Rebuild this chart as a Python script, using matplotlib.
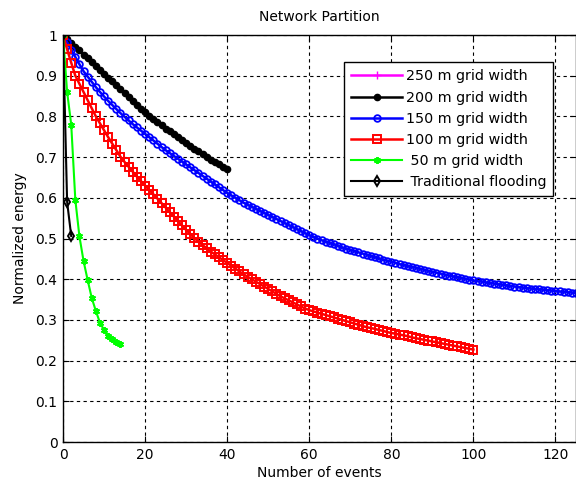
import numpy as np
import matplotlib.pyplot as plt

# ---- data ----
x_250 = [0, 1]
y_250 = [1.000, 0.985]

x_200 = list(range(0, 41))
y_200 = [1.000, 0.990, 0.981, 0.971, 0.962, 0.952, 0.943, 0.933, 0.924, 0.914,
         0.905, 0.895, 0.886, 0.876, 0.867, 0.857, 0.848, 0.838, 0.829, 0.819,
         0.810, 0.802, 0.794, 0.786, 0.778, 0.770, 0.763, 0.756, 0.749, 0.742,
         0.735, 0.728, 0.721, 0.714, 0.707, 0.700, 0.694, 0.688, 0.682, 0.676,
         0.670]

x_150 = list(range(0, 126))
y_150 = [1.000, 0.982, 0.964, 0.946, 0.928, 0.911, 0.898, 0.885, 0.872, 0.860,
         0.849, 0.838, 0.828, 0.818, 0.808, 0.799, 0.790, 0.781, 0.773, 0.765,
         0.757, 0.749, 0.741, 0.733, 0.725, 0.717, 0.710, 0.703, 0.696, 0.689,
         0.682, 0.675, 0.668, 0.661, 0.654, 0.647, 0.640, 0.633, 0.626, 0.619,
         0.612, 0.606, 0.600, 0.594, 0.588, 0.583, 0.578, 0.573, 0.568, 0.563,
         0.558, 0.553, 0.548, 0.543, 0.538, 0.533, 0.528, 0.523, 0.518, 0.513,
         0.508, 0.504, 0.500, 0.496, 0.492, 0.489, 0.486, 0.482, 0.478, 0.475,
         0.472, 0.469, 0.466, 0.463, 0.460, 0.457, 0.454, 0.451, 0.448, 0.445,
         0.443, 0.440, 0.437, 0.435, 0.432, 0.430, 0.428, 0.425, 0.423, 0.420,
         0.418, 0.416, 0.414, 0.411, 0.409, 0.407, 0.405, 0.403, 0.401, 0.399,
         0.397, 0.395, 0.394, 0.392, 0.391, 0.389, 0.388, 0.386, 0.385, 0.383,
         0.382, 0.381, 0.379, 0.378, 0.377, 0.376, 0.375, 0.374, 0.373, 0.372,
         0.371, 0.370, 0.369, 0.368, 0.367, 0.366]

x_100 = list(range(0, 101))
y_100 = [1.000, 0.965, 0.932, 0.900, 0.880, 0.860, 0.840, 0.820, 0.800, 0.783,
         0.766, 0.749, 0.733, 0.717, 0.701, 0.688, 0.676, 0.664, 0.652, 0.641,
         0.630, 0.619, 0.609, 0.598, 0.587, 0.576, 0.565, 0.554, 0.543, 0.532,
         0.521, 0.511, 0.501, 0.492, 0.484, 0.476, 0.468, 0.461, 0.454, 0.447,
         0.440, 0.433, 0.426, 0.419, 0.412, 0.406, 0.400, 0.394, 0.388, 0.382,
         0.376, 0.370, 0.364, 0.358, 0.353, 0.348, 0.343, 0.338, 0.333, 0.328,
         0.324, 0.321, 0.318, 0.315, 0.312, 0.309, 0.306, 0.303, 0.300, 0.297,
         0.294, 0.291, 0.288, 0.285, 0.282, 0.280, 0.278, 0.275, 0.273, 0.270,
         0.268, 0.266, 0.264, 0.262, 0.260, 0.257, 0.255, 0.253, 0.251, 0.249,
         0.247, 0.245, 0.243, 0.241, 0.239, 0.237, 0.235, 0.233, 0.231, 0.229,
         0.227]

x_50 = list(range(0, 15))
y_50 = [1.000, 0.860, 0.780, 0.595, 0.505, 0.445, 0.398, 0.354, 0.322, 0.293,
        0.275, 0.260, 0.252, 0.246, 0.242]

x_trad = [0, 1, 2]
y_trad = [1.000, 0.590, 0.506]

labels = ["250 m grid width", "200 m grid width", "150 m grid width",
          "100 m grid width", " 50 m grid width", " Traditional flooding"]

# ---- plot ----
plt.rcParams['font.family'] = ['DejaVu Sans']

fig = plt.figure(figsize=(5.76, 4.87), dpi=100)
ax = fig.add_axes([0.1094, 0.0924, 0.8906, 0.8357])

ax.plot(x_250, y_250, color="magenta", marker="+", markersize=6, linewidth=1.8,
        label=labels[0])
ax.plot(x_200, y_200, color="black", marker=".", markersize=9, linewidth=1.8,
        label=labels[1])
ax.plot(x_150, y_150, color="blue", marker="o", markersize=4.8, fillstyle="none",
        markeredgewidth=1.3, linewidth=1.8, label=labels[2])
ax.plot(x_100, y_100, color="red", marker="s", markersize=6, fillstyle="none",
        markeredgewidth=1.4, linewidth=1.8, label=labels[3])
ax.plot(x_50, y_50, color="#00ff00", marker=(6, 2, 0), markersize=5, markeredgewidth=1.4,
        linewidth=1.5, label=labels[4])
ax.plot(x_trad, y_trad, color="black", marker="d", markersize=5, fillstyle="none",
        markeredgewidth=1.4, linewidth=1.5, label=labels[5])

ax.set_xlim(0, 125)
ax.set_ylim(0, 1)
ax.set_xticks([0, 20, 40, 60, 80, 100, 120])
ax.set_yticks(np.arange(0, 1.01, 0.1))
ax.set_yticklabels(["0", "0.1", "0.2", "0.3", "0.4", "0.5", "0.6", "0.7", "0.8", "0.9", "1"])

ax.grid(True, color="black", linestyle=(0, (3, 3)), linewidth=0.8)
ax.tick_params(direction="in", top=True, right=True, labelsize=10, length=4, pad=4)
for sp in ax.spines.values():
    sp.set_linewidth(1.0)

ax.set_title("Network Partition", fontsize=10, pad=10)
ax.set_xlabel("Number of events", fontsize=10, labelpad=3)
ax.set_ylabel("Normalized energy", fontsize=10, labelpad=6)

leg = ax.legend(loc="upper left", bbox_to_anchor=(0.547, 0.933), fontsize=10.3,
                frameon=True, fancybox=False, framealpha=1, edgecolor="black",
                handlelength=3.6, borderpad=0.5, labelspacing=0.5,
                handletextpad=0.25, borderaxespad=0)
leg.get_frame().set_linewidth(1.0)

fig.savefig("out.png", dpi=100)
